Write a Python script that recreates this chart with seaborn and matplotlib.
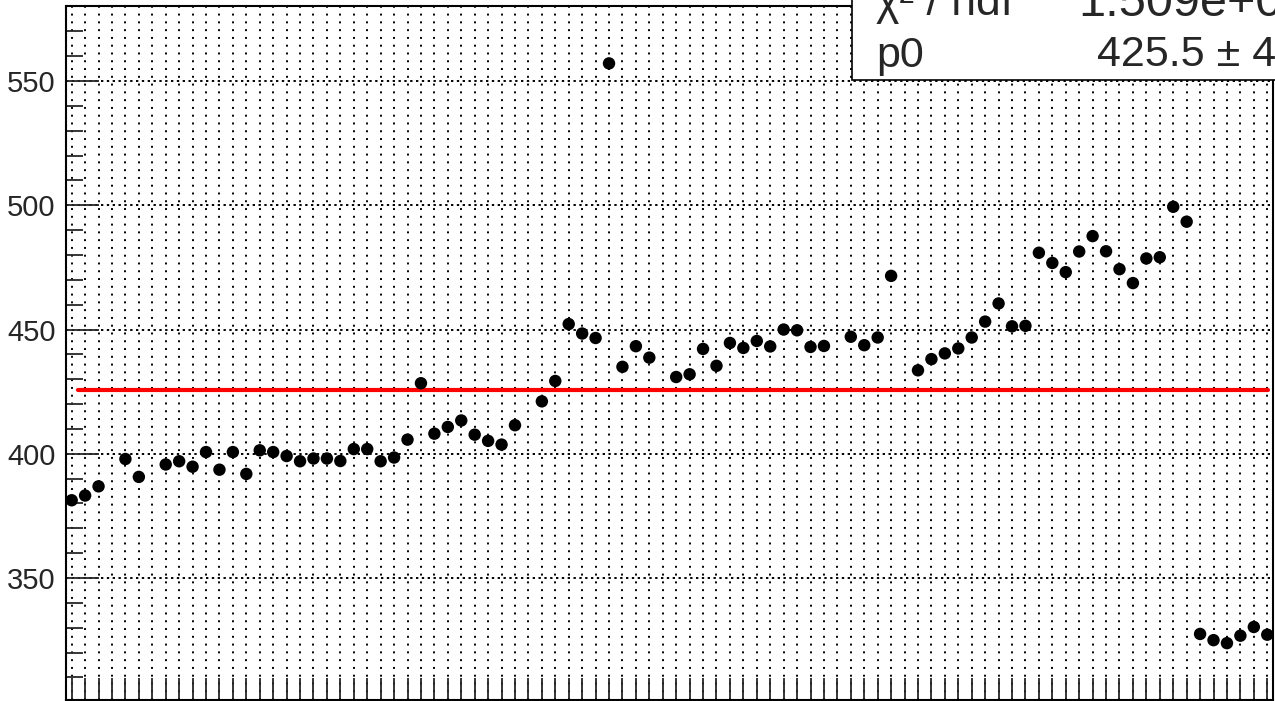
import matplotlib
matplotlib.use("Agg")
import matplotlib.pyplot as plt
import numpy as np
import pandas as pd
import seaborn as sns
from matplotlib.patches import Rectangle
from matplotlib.ticker import MultipleLocator

nan = np.nan

# ---------------------------------------------------------------------------
# Data
# ---------------------------------------------------------------------------

point_index = list(range(90))
point_value = [
    381.3, 383.2, 386.9, nan, 397.9, 390.7, nan, 395.7, 397.0, 394.8,
    400.7, 393.6, 400.7, 391.9, 401.4, 400.7, 399.1, 397.0, 398.1, 398.1,
    397.1, 401.9, 401.9, 397.0, 398.5, 405.7, 428.4, 408.1, 410.8, 413.4,
    407.7, 405.2, 403.7, 411.5, nan, 421.1, 429.3, 452.2, 448.4, 446.6,
    557.1, 435.0, 443.3, 438.7, nan, 430.9, 432.0, 442.2, 435.4, 444.6,
    442.6, 445.4, 443.2, 450.0, 449.7, 443.0, 443.4, nan, 447.1, 443.7,
    446.8, 471.6, nan, 433.6, 438.1, 440.4, 442.4, 446.8, 453.2, 460.5,
    451.3, 451.5, 480.9, 476.8, 473.1, 481.4, 487.6, 481.5, 474.3, 468.7,
    478.6, 479.1, 499.4, 493.4, 327.5, 325.0, 323.8, 326.8, 330.3, 327.2,
]

fit_p0 = 425.5
fit_range = [0.47, 89.05]

stats_labels = ["\u03c7\u00b2 / ndf", "p0"]
stats_values = ["1.509e+05", "425.5 \u00b1 4"]

y_major_ticks = [350, 400, 450, 500, 550]

# ---------------------------------------------------------------------------
# Figure
# ---------------------------------------------------------------------------

sns.set_style("white")
plt.rcParams["font.family"] = ["Liberation Sans", "DejaVu Sans"]

W, H = 1275, 701
fig = plt.figure(figsize=(W / 100, H / 100), dpi=100)

left_px, right_px, top_px, bottom_px = 65.5, 1273.3, 6.0, 700.3
ax = fig.add_axes([
    left_px / W, 1 - bottom_px / H,
    (right_px - left_px) / W, (bottom_px - top_px) / H,
])

df = pd.DataFrame({"x": point_index, "y": point_value})
fit_df = pd.DataFrame({"x": fit_range, "y": [fit_p0] * len(fit_range)})

sns.lineplot(data=fit_df, x="x", y="y", color="#ff0000", linewidth=3.0,
             ax=ax, zorder=3)
sns.scatterplot(data=df.dropna(), x="x", y="y", color="black", s=80,
                edgecolor="none", linewidth=0, ax=ax, zorder=4)

ax.set_xlim(-0.46, 89.45)
ax.set_ylim(300.8, 580.2)
ax.set_xlabel("")
ax.set_ylabel("")

ax.xaxis.set_major_locator(MultipleLocator(1))
ax.set_xticklabels([])
ax.set_yticks(y_major_ticks)
ax.yaxis.set_minor_locator(MultipleLocator(10))

ax.tick_params(axis="x", which="major", direction="in", length=16,
               width=1.3, bottom=True, top=False, labelbottom=False)
ax.tick_params(axis="y", which="major", direction="in", length=24,
               width=1.3, left=True, right=False, labelsize=21, pad=7)
ax.tick_params(axis="y", which="minor", direction="in", length=12,
               width=1.3, left=True, right=False)

ax.grid(axis="x", which="major", color="black", linewidth=1.4,
        linestyle=(0, (1, 3)))
ax.grid(axis="y", which="major", color="black", linewidth=1.4,
        linestyle=(0, (1.2, 1.8)))
ax.set_axisbelow(True)

for side in ["left", "right", "top", "bottom"]:
    ax.spines[side].set_visible(True)
    ax.spines[side].set_color("black")
    ax.spines[side].set_linewidth(1.5)

# stats box (partly off the canvas, like the cropped original)
box_left, box_bottom = 852 / W, 1 - 80 / H
fig.add_artist(Rectangle((box_left, box_bottom), 1.2, 0.5,
                         transform=fig.transFigure, facecolor="white",
                         edgecolor="black", linewidth=1.2, zorder=5))

row_baselines = [15.5, 66.5]
label_sizes = [32, 31]
value_sizes = [35, 31]
value_left = [1078, 1097]
for label, base, fs in zip(stats_labels, row_baselines, label_sizes):
    fig.text(876 / W, 1 - base / H, label, fontsize=fs, va="baseline",
             ha="left", zorder=6)
for value, base, xl, fs in zip(stats_values, row_baselines, value_left,
                               value_sizes):
    fig.text(xl / W, 1 - base / H, value, fontsize=fs, va="baseline",
             ha="left", zorder=6)

fig.savefig("out.png", dpi=100)
